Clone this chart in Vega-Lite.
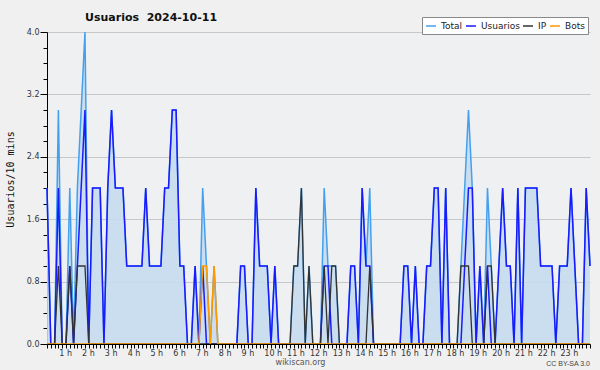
{
"$schema": "https://vega.github.io/schema/vega-lite/v6.json",
"width": 543, "height": 312,
"autosize": {"type": "none"},
"padding": {"left": 47, "top": 32, "right": 10, "bottom": 26},
"background": "#f0f0f0",
"view": {"fill": "#eef0f2", "stroke": null},
"title": {"text": "Usuarios\u00a0\u00a02024-10-11", "anchor": "start", "frame": "group", "dx": 38, "dy": 26, "offset": 11, "baseline": "alphabetic", "font": "DejaVu Sans", "fontSize": 11, "fontWeight": "bold", "color": "#111"},
"data": {"values": [
{"m":0,"Total":2,"Usuarios":2,"IP":0,"Bots":0},
{"m":10,"Total":0,"Usuarios":0,"IP":0,"Bots":0},
{"m":20,"Total":0,"Usuarios":0,"IP":0,"Bots":0},
{"m":30,"Total":3,"Usuarios":2,"IP":1,"Bots":0},
{"m":40,"Total":0,"Usuarios":0,"IP":0,"Bots":0},
{"m":50,"Total":0,"Usuarios":0,"IP":0,"Bots":0},
{"m":60,"Total":2,"Usuarios":1,"IP":1,"Bots":0},
{"m":70,"Total":0,"Usuarios":0,"IP":0,"Bots":0},
{"m":80,"Total":2,"Usuarios":1,"IP":1,"Bots":0},
{"m":90,"Total":3,"Usuarios":2,"IP":1,"Bots":0},
{"m":100,"Total":4,"Usuarios":3,"IP":1,"Bots":0},
{"m":110,"Total":0,"Usuarios":0,"IP":0,"Bots":0},
{"m":120,"Total":2,"Usuarios":2,"IP":0,"Bots":0},
{"m":130,"Total":2,"Usuarios":2,"IP":0,"Bots":0},
{"m":140,"Total":2,"Usuarios":2,"IP":0,"Bots":0},
{"m":150,"Total":0,"Usuarios":0,"IP":0,"Bots":0},
{"m":160,"Total":2,"Usuarios":2,"IP":0,"Bots":0},
{"m":170,"Total":3,"Usuarios":3,"IP":0,"Bots":0},
{"m":180,"Total":2,"Usuarios":2,"IP":0,"Bots":0},
{"m":190,"Total":2,"Usuarios":2,"IP":0,"Bots":0},
{"m":200,"Total":2,"Usuarios":2,"IP":0,"Bots":0},
{"m":210,"Total":1,"Usuarios":1,"IP":0,"Bots":0},
{"m":220,"Total":1,"Usuarios":1,"IP":0,"Bots":0},
{"m":230,"Total":1,"Usuarios":1,"IP":0,"Bots":0},
{"m":240,"Total":1,"Usuarios":1,"IP":0,"Bots":0},
{"m":250,"Total":1,"Usuarios":1,"IP":0,"Bots":0},
{"m":260,"Total":2,"Usuarios":2,"IP":0,"Bots":0},
{"m":270,"Total":1,"Usuarios":1,"IP":0,"Bots":0},
{"m":280,"Total":1,"Usuarios":1,"IP":0,"Bots":0},
{"m":290,"Total":1,"Usuarios":1,"IP":0,"Bots":0},
{"m":300,"Total":1,"Usuarios":1,"IP":0,"Bots":0},
{"m":310,"Total":2,"Usuarios":2,"IP":0,"Bots":0},
{"m":320,"Total":2,"Usuarios":2,"IP":0,"Bots":0},
{"m":330,"Total":3,"Usuarios":3,"IP":0,"Bots":0},
{"m":340,"Total":3,"Usuarios":3,"IP":0,"Bots":0},
{"m":350,"Total":1,"Usuarios":1,"IP":0,"Bots":0},
{"m":360,"Total":1,"Usuarios":1,"IP":0,"Bots":0},
{"m":370,"Total":0,"Usuarios":0,"IP":0,"Bots":0},
{"m":380,"Total":0,"Usuarios":0,"IP":0,"Bots":0},
{"m":390,"Total":1,"Usuarios":1,"IP":0,"Bots":0},
{"m":400,"Total":0,"Usuarios":0,"IP":0,"Bots":0},
{"m":410,"Total":2,"Usuarios":1,"IP":0,"Bots":1},
{"m":420,"Total":1,"Usuarios":0,"IP":0,"Bots":1},
{"m":430,"Total":0,"Usuarios":0,"IP":0,"Bots":0},
{"m":440,"Total":1,"Usuarios":0,"IP":0,"Bots":1},
{"m":450,"Total":0,"Usuarios":0,"IP":0,"Bots":0},
{"m":460,"Total":0,"Usuarios":0,"IP":0,"Bots":0},
{"m":470,"Total":0,"Usuarios":0,"IP":0,"Bots":0},
{"m":480,"Total":0,"Usuarios":0,"IP":0,"Bots":0},
{"m":490,"Total":0,"Usuarios":0,"IP":0,"Bots":0},
{"m":500,"Total":0,"Usuarios":0,"IP":0,"Bots":0},
{"m":510,"Total":1,"Usuarios":1,"IP":0,"Bots":0},
{"m":520,"Total":1,"Usuarios":1,"IP":0,"Bots":0},
{"m":530,"Total":0,"Usuarios":0,"IP":0,"Bots":0},
{"m":540,"Total":0,"Usuarios":0,"IP":0,"Bots":0},
{"m":550,"Total":2,"Usuarios":2,"IP":0,"Bots":0},
{"m":560,"Total":1,"Usuarios":1,"IP":0,"Bots":0},
{"m":570,"Total":1,"Usuarios":1,"IP":0,"Bots":0},
{"m":580,"Total":1,"Usuarios":1,"IP":0,"Bots":0},
{"m":590,"Total":0,"Usuarios":0,"IP":0,"Bots":0},
{"m":600,"Total":1,"Usuarios":1,"IP":0,"Bots":0},
{"m":610,"Total":0,"Usuarios":0,"IP":0,"Bots":0},
{"m":620,"Total":0,"Usuarios":0,"IP":0,"Bots":0},
{"m":630,"Total":0,"Usuarios":0,"IP":0,"Bots":0},
{"m":640,"Total":0,"Usuarios":0,"IP":0,"Bots":0},
{"m":650,"Total":1,"Usuarios":0,"IP":1,"Bots":0},
{"m":660,"Total":1,"Usuarios":0,"IP":1,"Bots":0},
{"m":670,"Total":2,"Usuarios":0,"IP":2,"Bots":0},
{"m":680,"Total":0,"Usuarios":0,"IP":0,"Bots":0},
{"m":690,"Total":1,"Usuarios":0,"IP":1,"Bots":0},
{"m":700,"Total":0,"Usuarios":0,"IP":0,"Bots":0},
{"m":710,"Total":0,"Usuarios":0,"IP":0,"Bots":0},
{"m":720,"Total":0,"Usuarios":0,"IP":0,"Bots":0},
{"m":730,"Total":2,"Usuarios":1,"IP":1,"Bots":0},
{"m":740,"Total":1,"Usuarios":1,"IP":0,"Bots":0},
{"m":750,"Total":1,"Usuarios":0,"IP":1,"Bots":0},
{"m":760,"Total":1,"Usuarios":0,"IP":1,"Bots":0},
{"m":770,"Total":0,"Usuarios":0,"IP":0,"Bots":0},
{"m":780,"Total":0,"Usuarios":0,"IP":0,"Bots":0},
{"m":790,"Total":0,"Usuarios":0,"IP":0,"Bots":0},
{"m":800,"Total":1,"Usuarios":1,"IP":0,"Bots":0},
{"m":810,"Total":1,"Usuarios":1,"IP":0,"Bots":0},
{"m":820,"Total":0,"Usuarios":0,"IP":0,"Bots":0},
{"m":830,"Total":2,"Usuarios":2,"IP":0,"Bots":0},
{"m":840,"Total":1,"Usuarios":1,"IP":0,"Bots":0},
{"m":850,"Total":2,"Usuarios":1,"IP":1,"Bots":0},
{"m":860,"Total":0,"Usuarios":0,"IP":0,"Bots":0},
{"m":870,"Total":0,"Usuarios":0,"IP":0,"Bots":0},
{"m":880,"Total":0,"Usuarios":0,"IP":0,"Bots":0},
{"m":890,"Total":0,"Usuarios":0,"IP":0,"Bots":0},
{"m":900,"Total":0,"Usuarios":0,"IP":0,"Bots":0},
{"m":910,"Total":0,"Usuarios":0,"IP":0,"Bots":0},
{"m":920,"Total":0,"Usuarios":0,"IP":0,"Bots":0},
{"m":930,"Total":0,"Usuarios":0,"IP":0,"Bots":0},
{"m":940,"Total":1,"Usuarios":1,"IP":0,"Bots":0},
{"m":950,"Total":1,"Usuarios":1,"IP":0,"Bots":0},
{"m":960,"Total":0,"Usuarios":0,"IP":0,"Bots":0},
{"m":970,"Total":1,"Usuarios":1,"IP":0,"Bots":0},
{"m":980,"Total":0,"Usuarios":0,"IP":0,"Bots":0},
{"m":990,"Total":0,"Usuarios":0,"IP":0,"Bots":0},
{"m":1000,"Total":1,"Usuarios":1,"IP":0,"Bots":0},
{"m":1010,"Total":1,"Usuarios":1,"IP":0,"Bots":0},
{"m":1020,"Total":2,"Usuarios":2,"IP":0,"Bots":0},
{"m":1030,"Total":2,"Usuarios":2,"IP":0,"Bots":0},
{"m":1040,"Total":0,"Usuarios":0,"IP":0,"Bots":0},
{"m":1050,"Total":2,"Usuarios":2,"IP":0,"Bots":0},
{"m":1060,"Total":0,"Usuarios":0,"IP":0,"Bots":0},
{"m":1070,"Total":0,"Usuarios":0,"IP":0,"Bots":0},
{"m":1080,"Total":0,"Usuarios":0,"IP":0,"Bots":0},
{"m":1090,"Total":1,"Usuarios":0,"IP":1,"Bots":0},
{"m":1100,"Total":2,"Usuarios":1,"IP":1,"Bots":0},
{"m":1110,"Total":3,"Usuarios":2,"IP":1,"Bots":0},
{"m":1120,"Total":2,"Usuarios":2,"IP":0,"Bots":0},
{"m":1130,"Total":0,"Usuarios":0,"IP":0,"Bots":0},
{"m":1140,"Total":1,"Usuarios":1,"IP":0,"Bots":0},
{"m":1150,"Total":0,"Usuarios":0,"IP":0,"Bots":0},
{"m":1160,"Total":2,"Usuarios":1,"IP":1,"Bots":0},
{"m":1170,"Total":1,"Usuarios":0,"IP":1,"Bots":0},
{"m":1180,"Total":0,"Usuarios":0,"IP":0,"Bots":0},
{"m":1190,"Total":1,"Usuarios":1,"IP":0,"Bots":0},
{"m":1200,"Total":2,"Usuarios":2,"IP":0,"Bots":0},
{"m":1210,"Total":1,"Usuarios":1,"IP":0,"Bots":0},
{"m":1220,"Total":1,"Usuarios":1,"IP":0,"Bots":0},
{"m":1230,"Total":0,"Usuarios":0,"IP":0,"Bots":0},
{"m":1240,"Total":2,"Usuarios":2,"IP":0,"Bots":0},
{"m":1250,"Total":0,"Usuarios":0,"IP":0,"Bots":0},
{"m":1260,"Total":2,"Usuarios":2,"IP":0,"Bots":0},
{"m":1270,"Total":2,"Usuarios":2,"IP":0,"Bots":0},
{"m":1280,"Total":2,"Usuarios":2,"IP":0,"Bots":0},
{"m":1290,"Total":2,"Usuarios":2,"IP":0,"Bots":0},
{"m":1300,"Total":1,"Usuarios":1,"IP":0,"Bots":0},
{"m":1310,"Total":1,"Usuarios":1,"IP":0,"Bots":0},
{"m":1320,"Total":1,"Usuarios":1,"IP":0,"Bots":0},
{"m":1330,"Total":1,"Usuarios":1,"IP":0,"Bots":0},
{"m":1340,"Total":0,"Usuarios":0,"IP":0,"Bots":0},
{"m":1350,"Total":1,"Usuarios":1,"IP":0,"Bots":0},
{"m":1360,"Total":1,"Usuarios":1,"IP":0,"Bots":0},
{"m":1370,"Total":1,"Usuarios":1,"IP":0,"Bots":0},
{"m":1380,"Total":2,"Usuarios":2,"IP":0,"Bots":0},
{"m":1390,"Total":1,"Usuarios":1,"IP":0,"Bots":0},
{"m":1400,"Total":0,"Usuarios":0,"IP":0,"Bots":0},
{"m":1410,"Total":0,"Usuarios":0,"IP":0,"Bots":0},
{"m":1420,"Total":2,"Usuarios":2,"IP":0,"Bots":0},
{"m":1430,"Total":1,"Usuarios":1,"IP":0,"Bots":0}
]},
"transform": [{"fold": ["Total", "Usuarios", "IP", "Bots"], "as": ["serie", "valor"]}],
"encoding": {
  "x": {"field": "m", "type": "quantitative", "scale": {"domain": [0, 1430], "nice": false, "zero": false},
    "axis": {"title": "wikiscan.org", "tickCount": 143, "labelExpr": "datum.value > 0 && datum.value % 60 == 0 ? (datum.value/60) + ' h' : ''", "labelOverlap": false, "labelAlign": "left", "labelOffset": -11, "labelFlush": false, "labelBound": false, "labelFont": "DejaVu Sans", "labelFontSize": 8, "labelColor": "#333", "labelPadding": 1, "tickSize": 4, "tickColor": "#000", "domainColor": "#000", "grid": false, "zindex": 1, "titleFont": "DejaVu Sans", "titleFontSize": 8, "titleFontWeight": "normal", "titleColor": "#555", "titleX": 253, "titleY": 18, "titleBaseline": "middle", "titleAlign": "center"}},
  "y": {"field": "valor", "type": "quantitative", "scale": {"domain": [0, 4], "nice": false},
    "axis": {"title": "Usuarios/10 mins", "values": [0,0.2,0.4,0.6,0.8,1,1.2,1.4,1.6,1.8,2,2.2,2.4,2.6,2.8,3,3.2,3.4,3.6,3.8,4],
      "labelExpr": "abs(datum.value/0.8 - round(datum.value/0.8)) < 0.001 ? format(datum.value, '.1f') : ''",
      "tickSize": {"condition": {"test": "abs(datum.value/0.8 - round(datum.value/0.8)) < 0.001", "value": 7}, "value": 4},
      "gridOpacity": {"condition": {"test": "abs(datum.value/0.8 - round(datum.value/0.8)) < 0.001", "value": 1}, "value": 0},
      "grid": true, "gridColor": "#c8c8c8", "labelOverlap": false, "labelFont": "DejaVu Sans", "labelFontSize": 8, "labelColor": "#333", "labelPadding": 1, "tickColor": "#000", "domainColor": "#000",
      "titleFont": "DejaVu Sans Mono", "titleFontSize": 10, "titleFontWeight": "normal", "titleColor": "#111", "titleX": -37, "titleY": 147, "titleAlign": "center", "titleBaseline": "middle", "titleAngle": 270}}
},
"layer": [
  {"transform": [{"filter": "datum.serie == 'Total'"}], "mark": {"type": "area", "color": "#c5dcf0", "opacity": 0.9}},
  {"transform": [{"filter": "datum.serie == 'Total'"}], "mark": {"type": "line", "strokeWidth": 1.5}, "encoding": {"color": {"field": "serie", "type": "nominal"}}},
  {"transform": [{"filter": "datum.serie == 'Usuarios'"}], "mark": {"type": "line", "strokeWidth": 1.5}, "encoding": {"color": {"field": "serie", "type": "nominal"}}},
  {"transform": [{"filter": "datum.serie == 'IP'"}], "mark": {"type": "line", "strokeWidth": 1.3}, "encoding": {"color": {"field": "serie", "type": "nominal"}}},
  {"transform": [{"filter": "datum.serie == 'Bots'"}], "mark": {"type": "line", "strokeWidth": 1.5}, "encoding": {"color": {"field": "serie", "type": "nominal",
    "scale": {"domain": ["Total", "Usuarios", "IP", "Bots"], "range": ["#44a0ee", "#1a1aff", "#333333", "#ff9900"]},
    "legend": {"orient": "none", "legendX": 375, "legendY": -15, "direction": "horizontal", "columns": 4, "title": null, "symbolType": "stroke", "symbolSize": 100, "symbolStrokeWidth": 1.5, "labelFont": "DejaVu Sans", "labelFontSize": 9, "labelColor": "#222", "labelOffset": 4, "columnPadding": 0, "padding": 3, "fillColor": "#ffffff", "strokeColor": "#888888", "rowPadding": 0}}}},
  {"transform": [{"filter": "datum.m == 1430 && datum.serie == 'Total'"}], "mark": {"type": "text", "text": "CC BY-SA 3.0", "align": "right", "baseline": "middle", "dy": 20, "font": "Liberation Sans", "fontSize": 7, "color": "#444"}, "encoding": {"y": {"datum": 0}}}
]
}
